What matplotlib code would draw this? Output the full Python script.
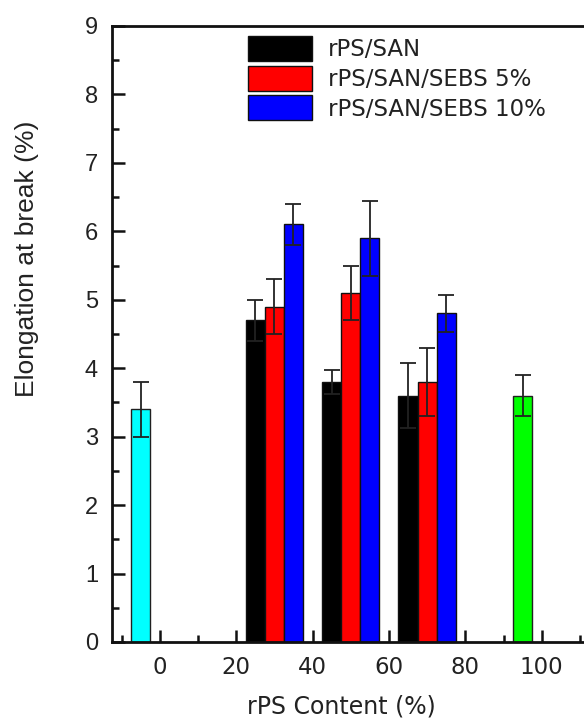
import matplotlib
matplotlib.use("Agg")
import matplotlib.pyplot as plt
from matplotlib.ticker import MultipleLocator

# Blend series: rPS content (%) and elongation at break (%) with error
blend_x = [30, 50, 70]
offsets = [-5, 0, 5]
series_labels = ["rPS/SAN", "rPS/SAN/SEBS 5%", "rPS/SAN/SEBS 10%"]
series_colors = ["#000000", "#ff0000", "#0000ff"]
series_values = [
    [4.7, 3.8, 3.6],
    [4.9, 5.1, 3.8],
    [6.1, 5.9, 4.8],
]
series_errors = [
    [0.30, 0.17, 0.47],
    [0.40, 0.40, 0.50],
    [0.30, 0.55, 0.27],
]

# Neat components
san_x, san_value, san_error = -5, 3.4, 0.4
rps_x, rps_value, rps_error = 95, 3.6, 0.3

bar_width = 5

fig = plt.figure(figsize=(5.84, 7.19), dpi=100)
ax = fig.add_axes([112 / 584, 1 - 642 / 719, 487 / 584, 616 / 719])

err_kw = dict(ecolor="#222222", elinewidth=1.3, capsize=5.5, capthick=1.3)

ax.bar([san_x], [san_value], width=bar_width, color="#00ffff",
       edgecolor="#202020", linewidth=1.0, yerr=[san_error],
       error_kw=err_kw, zorder=2)
ax.bar([rps_x], [rps_value], width=bar_width, color="#00ff00",
       edgecolor="#202020", linewidth=1.0, yerr=[rps_error],
       error_kw=err_kw, zorder=2)

handles = []
for off, vals, errs, col, lab in zip(offsets, series_values, series_errors,
                                     series_colors, series_labels):
    xs = [x + off for x in blend_x]
    h = ax.bar(xs, vals, width=bar_width, color=col, edgecolor="#101010",
               linewidth=1.0, yerr=errs, error_kw=err_kw, label=lab, zorder=2)
    handles.append(h)

ax.set_xlim(-12.5, 115)
ax.set_ylim(0, 9)
ax.xaxis.set_major_locator(MultipleLocator(20))
ax.xaxis.set_minor_locator(MultipleLocator(10))
ax.yaxis.set_major_locator(MultipleLocator(1))
ax.yaxis.set_minor_locator(MultipleLocator(0.5))

for sp in ax.spines.values():
    sp.set_linewidth(2.0)
    sp.set_color("#111111")

ax.tick_params(which="both", direction="in", top=False, right=False,
               color="#111111")
ax.tick_params(which="major", length=9, width=1.8)
ax.tick_params(which="minor", length=5, width=1.8)
ax.tick_params(axis="y", pad=10)
ax.tick_params(axis="x", pad=10)

for t in ax.get_yticklabels():
    t.set_fontfamily("Liberation Sans")
    t.set_fontsize(17)
    t.set_color("#222222")
for t in ax.get_xticklabels():
    t.set_fontfamily("DejaVu Sans")
    t.set_fontsize(16.5)
    t.set_color("#222222")

ax.set_ylabel("Elongation at break (%)", fontfamily="Liberation Sans",
              fontsize=19, color="#222222")
ax.yaxis.set_label_coords(-0.15, 0.622)
ax.set_xlabel("rPS Content (%)", fontfamily="DejaVu Sans", fontsize=17,
              color="#222222")
ax.xaxis.set_label_coords(0.47, -0.085)

leg = ax.legend(handles=handles, labels=series_labels, loc="upper left",
                bbox_to_anchor=(248 / 584, 1 - 36 / 719),
                bbox_transform=fig.transFigure, frameon=False,
                prop={"family": "DejaVu Sans", "size": 16.5},
                handlelength=2.8, handleheight=1.3, labelspacing=0.2,
                handletextpad=0.7, borderpad=0, borderaxespad=0)
for t in leg.get_texts():
    t.set_color("#222222")

fig.savefig("out.png", dpi=100)
